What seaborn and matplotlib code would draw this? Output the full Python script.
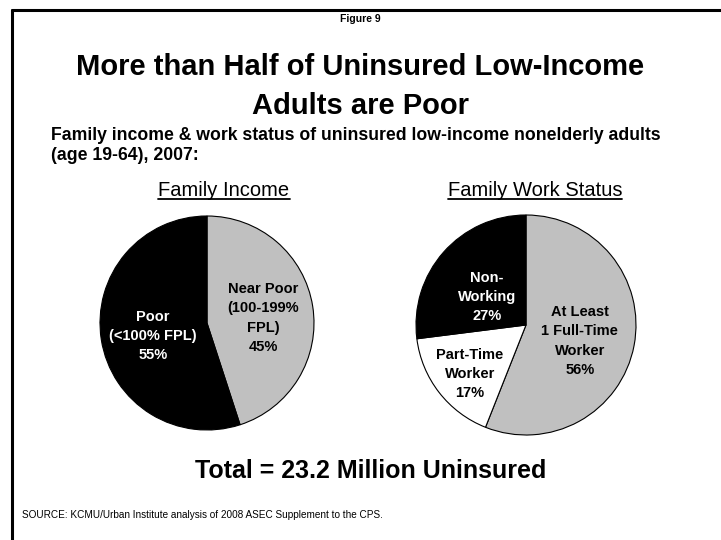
import matplotlib
matplotlib.use("Agg")
import matplotlib.pyplot as plt
from matplotlib.lines import Line2D
import numpy as np
import seaborn as sns

# Family income split
income_labels = ["Near Poor\n(100-199%\nFPL)", "Poor\n(<100% FPL)"]
income_values = [45, 55]
income_colors = ["#C0C0C0", "#000000"]
income_text_colors = ["#000000", "#FFFFFF"]

# Family work status split
work_labels = ["At Least\n1 Full-Time\nWorker", "Part-Time\nWorker", "Non-\nWorking"]
work_values = [56, 17, 27]
work_colors = ["#C0C0C0", "#FFFFFF", "#000000"]
work_text_colors = ["#000000", "#000000", "#FFFFFF"]

total_uninsured = 23.2

sns.set_theme(style="white")
FONT = ["Liberation Sans", "DejaVu Sans"]
plt.rcParams["font.family"] = FONT
plt.rcParams["text.color"] = "black"

W, H = 721, 540
fig = plt.figure(figsize=(W / 100, H / 100), dpi=100)
fig.patch.set_facecolor("white")


def fx(x):
    return x / W


def fy(y):
    return 1 - y / H


# frame lines along top and left
fig.add_artist(Line2D([fx(12), 1], [fy(10), fy(10)], color="black", lw=2.2,
                      transform=fig.transFigure))
fig.add_artist(Line2D([fx(12), fx(12)], [fy(10), 0], color="black", lw=2.2,
                      transform=fig.transFigure))

fig.text(0.5, fy(22), "Figure 9", ha="center", va="baseline", fontsize=7.5,
         fontweight="bold")
fig.text(0.5, fy(75), "More than Half of Uninsured Low-Income", ha="center",
         va="baseline", fontsize=21, fontweight="bold")
fig.text(0.5, fy(114), "Adults are Poor", ha="center", va="baseline",
         fontsize=21, fontweight="bold")
fig.text(fx(51), fy(140), "Family income & work status of uninsured low-income nonelderly adults",
         ha="left", va="baseline", fontsize=12.7, fontweight="bold")
fig.text(fx(51), fy(160), "(age 19-64), 2007:", ha="left", va="baseline",
         fontsize=12.7, fontweight="bold")


def underlined(x, y, s):
    t = fig.text(fx(x), fy(y), s, ha="center", va="baseline", fontsize=14.5)
    fig.canvas.draw()
    bb = t.get_window_extent()
    fig.add_artist(Line2D([bb.x0 / W, bb.x1 / W], [fy(y + 3), fy(y + 3)],
                          color="black", lw=1.3, transform=fig.transFigure))


underlined(224, 196, "Family Income")
underlined(535, 196, "Family Work Status")


def draw_pie(cx, cy, r, values, colors, labels, text_colors, dists, turns):
    ax = fig.add_axes([fx(cx - r), fy(cy + r), 2 * r / W, 2 * r / H])
    wedges, _ = ax.pie(values, colors=colors, startangle=90, counterclock=False,
                       wedgeprops=dict(edgecolor="black", linewidth=0.8))
    ax.set_xlim(-1, 1)
    ax.set_ylim(-1, 1)
    ax.set_aspect("equal")
    ax.axis("off")
    for w, lab, v, tc, d, t in zip(wedges, labels, values, text_colors, dists, turns):
        mid = np.deg2rad((w.theta1 + w.theta2) / 2 + t)
        ax.text(d * np.cos(mid), d * np.sin(mid), f"{lab}\n{v}%", ha="center",
                va="center", fontsize=10.5, fontweight="bold", color=tc,
                linespacing=1.48)
    return ax


draw_pie(207, 323, 107, income_values, income_colors, income_labels,
         income_text_colors, [0.525, 0.52], [-4, 4.5])
draw_pie(526, 325, 110, work_values, work_colors, work_labels,
         work_text_colors, [0.51, 0.676, 0.437], [-5.7, 3.4, 5.7])

fig.text(fx(371), fy(478), f"Total = {total_uninsured} Million Uninsured",
         ha="center", va="baseline", fontsize=18, fontweight="bold")
fig.text(fx(22), fy(518), "SOURCE: KCMU/Urban Institute analysis of 2008 ASEC Supplement to the CPS.",
         ha="left", va="baseline", fontsize=7.2)

fig.savefig("out.png", dpi=100)
